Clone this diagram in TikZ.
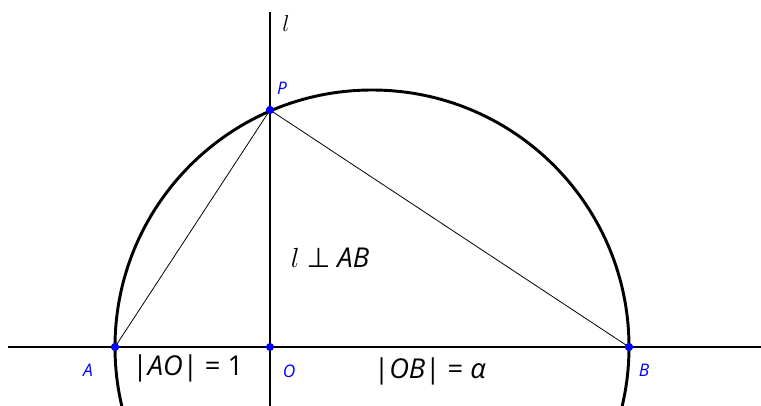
\documentclass[tikz,border=0pt]{standalone}
\usepackage{fontspec}
\setmainfont{Open Sans}
\newfontfamily\symfont{DejaVu Sans}
\begin{document}
\begin{tikzpicture}[x=0.75pt,y=-0.75pt,
  thickline/.style={line width=2.2pt},
  thinline/.style={line width=0.6pt},
  ptdot/.style={circle,fill=blue,inner sep=0pt,minimum size=6pt},
  ptlabel/.style={text=blue,font=\fontsize{13}{15}\selectfont\itshape},
  biglabel/.style={font=\fontsize{20.5}{24}\selectfont}]
\useasboundingbox (0,0) rectangle (761,405);
\clip (0,0) rectangle (761,405);
\coordinate (H1) at (8,347);
\coordinate (H2) at (770,347);
\coordinate (V1) at (270,12);
\coordinate (V2) at (270,420);
\coordinate (C) at (372,347);
\draw[thickline] (H1) -- (H2);
\draw[thickline] (V1) -- (V2);
\draw[thickline] (C) circle[radius=257];
\node[ptdot] (A) at (115,347) {};
\node[ptdot] (O) at (270,347) {};
\node[ptdot] (B) at (629,347) {};
\node[ptdot] (P) at (270,110) {};
\draw[thinline] (A.center) -- (P.center) -- (B.center);
\node[ptdot] at (A) {};
\node[ptdot] at (B) {};
\node[ptdot] at (P) {};
\node[ptlabel] (lA) at (88,370) {A};
\node[ptlabel] (lO) at (289,371) {O};
\node[ptlabel] (lB) at (644,370) {B};
\node[ptlabel] (lP) at (282,88) {P};
\node[font=\fontsize{16}{18}\selectfont] (ll) at (286,23) {$l$};
\node[biglabel] (perp) at (330,258) {$l$ {\symfont ⊥} \textit{AB}};
\node[biglabel] (ao) at (188,368) {|\textit{AO}| = 1};
\node[biglabel] (ob) at (430,371) {|\textit{OB}| = \textit{α}};
\end{tikzpicture}
\end{document}
